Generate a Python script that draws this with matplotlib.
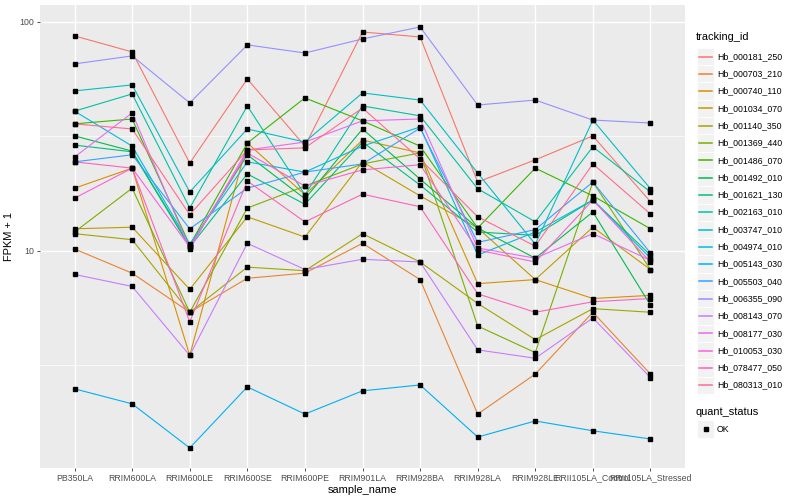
"""
FPKM + 1 per sample for a set of tracking ids (ggplot-like look).
"""

import matplotlib
matplotlib.use("Agg")
import matplotlib.pyplot as plt
from matplotlib.patches import Rectangle
from matplotlib.ticker import FixedLocator, NullFormatter

plt.rcParams['font.family'] = ['Liberation Sans', 'DejaVu Sans']

# Samples on the x axis
samples = ['PB350LA', 'RRIM600LA', 'RRIM600LE', 'RRIM600SE', 'RRIM600PE',
           'RRIM901LA', 'RRIM928BA', 'RRIM928LA', 'RRIM928LE',
           'RRII105LA_Control', 'RRII105LA_Stressed']

tracking_ids = ['Hb_000181_250', 'Hb_000703_210', 'Hb_000740_110', 'Hb_001034_070',
                'Hb_001140_350', 'Hb_001369_440', 'Hb_001486_070', 'Hb_001492_010',
                'Hb_001621_130', 'Hb_002163_010', 'Hb_003747_010', 'Hb_004974_010',
                'Hb_005143_030', 'Hb_005503_040', 'Hb_006355_090', 'Hb_008143_070',
                'Hb_008177_030', 'Hb_010053_030', 'Hb_078477_050', 'Hb_080313_010']

# ggplot hue palette for 20 levels
colors = ['#F8766D', '#EA8331', '#D89000', '#C09B00', '#A3A500', '#7CAE00', '#39B600',
          '#00BB4E', '#00BF7D', '#00C1A3', '#00BFC4', '#00BAE0', '#00B0F6', '#35A2FF',
          '#9590FF', '#C77CFF', '#E76BF3', '#FA62DB', '#FF62BC', '#FF6C91']

# FPKM + 1 values, one list per tracking id
hb_000181_250 = [86.9, 74.0, 24.2, 56.4, 28.7, 90.4, 86.0, 20.0, 25.0, 31.8, 16.4]
hb_000703_210 = [10.2, 8.0, 5.4, 7.6, 8.0, 10.8, 7.5, 1.94, 2.9, 5.4, 2.9]
hb_000740_110 = [18.8, 23.0, 3.5, 29.6, 17.6, 30.5, 26.8, 7.2, 7.5, 6.2, 6.4]
hb_001034_070 = [12.5, 12.7, 6.8, 14.1, 11.5, 24.5, 17.4, 12.6, 7.5, 12.7, 8.3]
hb_001140_350 = [11.9, 11.2, 5.4, 8.5, 8.2, 11.9, 8.95, 5.9, 4.1, 5.6, 5.4]
hb_001369_440 = [12.1, 18.8, 5.4, 15.4, 19.2, 24.0, 26.8, 4.7, 3.6, 20.0, 8.3]
hb_001486_070 = [35.9, 37.7, 10.6, 29.6, 46.6, 37.0, 28.7, 12.6, 23.0, 17.4, 12.5]
hb_001492_010 = [31.8, 27.3, 10.5, 26.3, 16.9, 34.1, 20.6, 12.6, 9.3, 14.8, 5.8]
hb_001621_130 = [29.0, 27.1, 10.4, 21.7, 16.0, 29.9, 19.4, 12.1, 11.7, 16.7, 9.6]
hb_002163_010 = [40.8, 48.5, 15.4, 43.0, 17.6, 43.0, 38.9, 18.7, 13.4, 28.5, 18.1]
hb_003747_010 = [50.0, 53.1, 18.1, 34.1, 29.9, 49.0, 45.6, 21.9, 10.7, 37.3, 18.7]
hb_004974_010 = [40.8, 28.7, 10.7, 24.5, 22.1, 28.7, 34.8, 9.6, 12.1, 16.7, 9.3]
hb_005143_030 = [2.5, 2.15, 1.38, 2.55, 1.94, 2.45, 2.6, 1.54, 1.81, 1.64, 1.51]
hb_005503_040 = [24.5, 26.3, 12.5, 18.8, 22.1, 24.0, 34.4, 10.9, 12.4, 20.0, 9.8]
hb_006355_090 = [65.6, 71.1, 44.3, 79.4, 73.2, 84.3, 95.1, 43.4, 45.6, 37.3, 36.2]
hb_008143_070 = [7.9, 7.0, 3.5, 10.8, 8.3, 9.2, 8.95, 3.7, 3.4, 5.1, 2.8]
hb_008177_030 = [25.7, 40.1, 10.2, 27.6, 29.9, 37.0, 37.7, 10.3, 9.3, 11.9, 9.1]
hb_010053_030 = [17.0, 23.0, 10.4, 26.8, 19.2, 22.6, 23.8, 10.1, 8.95, 16.7, 8.95]
hb_078477_050 = [24.5, 23.0, 4.9, 20.2, 13.4, 17.7, 15.6, 6.5, 5.4, 6.0, 6.2]
hb_080313_010 = [35.9, 34.1, 14.4, 27.6, 28.2, 42.1, 25.2, 14.1, 10.5, 24.0, 14.5]

series = [hb_000181_250, hb_000703_210, hb_000740_110, hb_001034_070, hb_001140_350,
          hb_001369_440, hb_001486_070, hb_001492_010, hb_001621_130, hb_002163_010,
          hb_003747_010, hb_004974_010, hb_005143_030, hb_005503_040, hb_006355_090,
          hb_008143_070, hb_008177_030, hb_010053_030, hb_078477_050, hb_080313_010]

# Figure and panel
fig = plt.figure(figsize=(8, 5), dpi=100)
ax = fig.add_axes([40 / 800, 32 / 500, 645 / 800, 463 / 500])
ax.set_facecolor('#EBEBEB')
for s in ax.spines.values():
    s.set_visible(False)

xs = list(range(len(samples)))
for vals, c in zip(series, colors):
    ax.plot(xs, vals, color=c, lw=0.8, zorder=3)
for vals in series:
    ax.plot(xs, vals, ls='none', marker='s', ms=2.2, color='black', zorder=4)

ax.set_yscale('log')
ax.set_ylim(1.128, 118.6)
ax.set_xlim(-0.6, len(samples) - 0.4)

ax.yaxis.set_major_locator(FixedLocator([10, 100]))
ax.yaxis.set_minor_locator(FixedLocator([10 ** 0.5, 10 ** 1.5]))
ax.yaxis.set_minor_formatter(NullFormatter())
ax.set_yticklabels(['10', '100'])
ax.set_xticks(xs)
ax.set_xticklabels(samples)

ax.grid(True, which='major', color='white', lw=1.0, zorder=0)
ax.grid(True, which='minor', axis='y', color='white', lw=0.5, zorder=0)
ax.set_axisbelow(True)
ax.tick_params(axis='both', which='major', length=2, width=0.6, color='#333333',
               labelsize=6.3, labelcolor='#4D4D4D', pad=2)
ax.tick_params(axis='y', which='minor', length=0)

ax.set_xlabel('sample_name', fontsize=7.9, labelpad=2)
ax.set_ylabel('FPKM + 1', fontsize=7.9, labelpad=4)

# Legend drawn by hand, ggplot style
def px(x, y):
    return x / 800, 1 - y / 500

fig.text(*px(696, 37), 'tracking_id', fontsize=7.9, va='center', ha='left')
for i, (name, c) in enumerate(zip(tracking_ids, colors)):
    yc = 56.5 + i * 17.3
    x0, y0 = px(697, yc + 8.6)
    fig.patches.append(Rectangle((x0, y0), 17 / 800, 17.3 / 500, transform=fig.transFigure,
                                 facecolor='#F2F2F2', edgecolor='white', lw=0.6))
    fig.lines.append(plt.Line2D([699 / 800, 712 / 800], [1 - yc / 500] * 2,
                                transform=fig.transFigure, color=c, lw=1.1))
    fig.text(*px(717, yc), name, fontsize=6.3, va='center', ha='left')

fig.text(*px(696, 412), 'quant_status', fontsize=7.9, va='center', ha='left')
x0, y0 = px(697, 437.5)
fig.patches.append(Rectangle((x0, y0), 17 / 800, 17.3 / 500, transform=fig.transFigure,
                             facecolor='#F2F2F2', edgecolor='white', lw=0.6))
fig.lines.append(plt.Line2D([705.5 / 800], [1 - 429 / 500], transform=fig.transFigure,
                            ls='none', marker='s', ms=2.2, color='black'))
fig.text(*px(717, 429), 'OK', fontsize=6.3, va='center', ha='left')

plt.savefig('out.png', dpi=100)
